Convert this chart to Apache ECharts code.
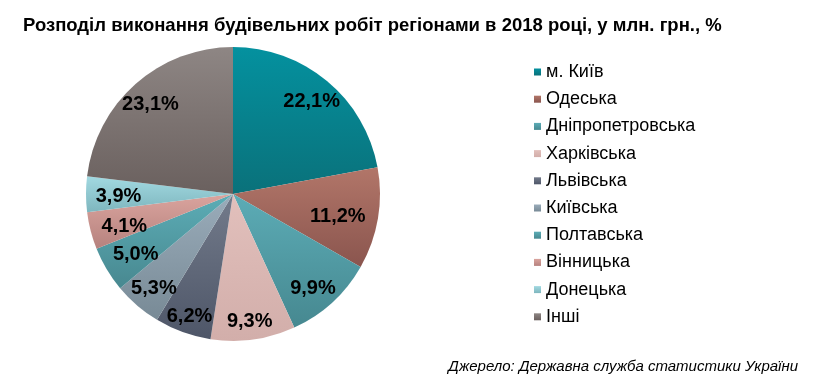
<!DOCTYPE html>
<html><head><meta charset="utf-8">
<script src="https://cdn.jsdelivr.net/npm/echarts@6/dist/echarts.min.js"></script>
<style>html,body{margin:0;padding:0;background:#fff}#c{width:838px;height:379px}</style>
</head><body><div id="c"></div>
<script>
var titleText = 'Розподіл виконання будівельних робіт регіонами в 2018 році, у млн. грн., %';
var sourceText = 'Джерело: Державна служба статистики України';
var regions = ['м. Київ','Одеська','Дніпропетровська','Харківська','Львівська','Київська','Полтавська','Вінницька','Донецька','Інші'];
var shares = [22.1, 11.2, 9.9, 9.3, 6.2, 5.3, 5.0, 4.1, 3.9, 23.1];
var topColors = ['#04919f','#b27669','#5cacb6','#e2c0bc','#737b8b','#9aacba','#5cadb6','#daa49e','#a2d9e1','#8e8684'];
var bottomColors = ['#0a717a','#8a554e','#468890','#d2aeaa','#4e5668','#788a96','#488890','#b6827e','#7eb6be','#6a605e'];
// small label nudges (styling) to mimic best-fit placement
var labelNudge = [[1,1],[-15,2],[-2,5],[0,7],[-2,8],[0,2],[7,-2],[9,2],[7,2],[-2,1]];

function grad(i){
  return new echarts.graphic.LinearGradient(0,0,0,1,[{offset:0,color:topColors[i]},{offset:1,color:bottomColors[i]}]);
}
var mainData = regions.map(function(n,i){return {name:n,value:shares[i],itemStyle:{color:grad(i)}};});
var labelData = regions.map(function(n,i){return {name:n,value:shares[i]};});

var chart = echarts.init(document.getElementById('c'));
chart.setOption({
  animation:false,
  title:[{text:titleText,left:18,top:11,textStyle:{fontFamily:'Liberation Sans',fontWeight:'bold',fontSize:18.5,color:'#000'}},
         {text:sourceText,right:35,top:354,textStyle:{fontFamily:'Liberation Sans',fontStyle:'italic',fontWeight:'normal',fontSize:15,color:'#000'}}],
  legend:{orient:'vertical',left:529,top:57,data:regions,icon:'rect',itemWidth:7,itemHeight:7,itemGap:7.2,
    textStyle:{fontFamily:'Liberation Sans',fontSize:18,color:'#000',lineHeight:20}},
  series:[
    {type:'pie',center:[233,194],radius:[0,147],startAngle:90,clockwise:true,silent:true,
     label:{show:false},labelLine:{show:false},data:mainData},
    {type:'pie',center:[233,194],radius:[90,147],startAngle:90,clockwise:true,silent:true,
     itemStyle:{color:'rgba(0,0,0,0)'},
     label:{show:true,position:'inside',fontFamily:'Liberation Sans',fontWeight:'bold',fontSize:20,color:'#000',
       formatter:function(p){return p.value.toFixed(1).replace('.',',')+'%';}},
     labelLayout:function(p){var d=labelNudge[p.dataIndex];return {dx:d[0],dy:d[1]};},
     labelLine:{show:false},data:labelData}
  ]
});
</script></body></html>
